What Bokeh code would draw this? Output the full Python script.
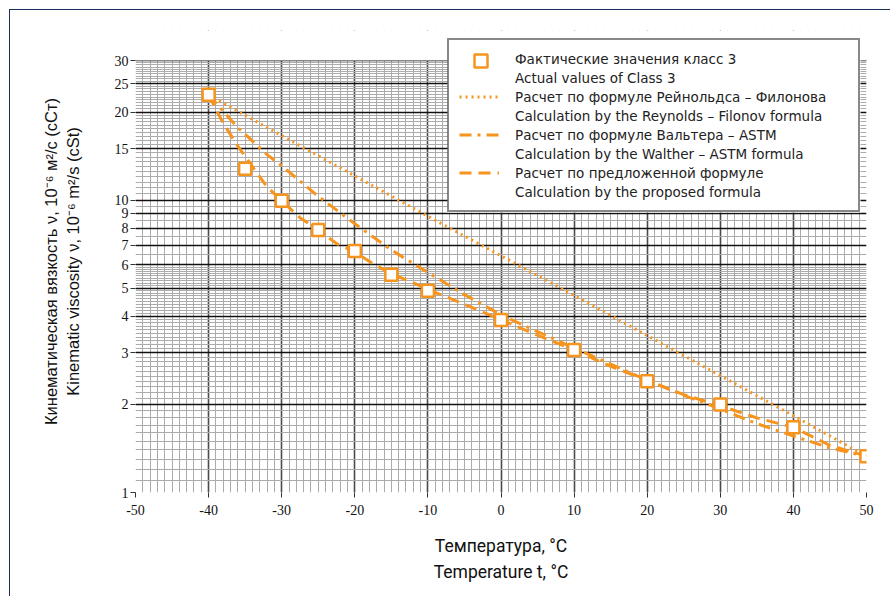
import numpy as np
from bokeh.plotting import figure
from bokeh.models import FixedTicker, Legend, LegendItem, BoxAnnotation
from bokeh.embed import file_html
from bokeh.resources import INLINE

# ---- data ----
temp_actual = [-40, -35, -30, -25, -20, -15, -10, 0, 10, 20, 30, 40, 50]
visc_actual = [22.9, 12.8, 9.95, 7.9, 6.7, 5.55, 4.9, 3.89, 3.07, 2.4, 2.0, 1.67, 1.33]

temp_reynolds = [-40, -30, -20, -10, 0, 10, 20, 30, 40, 50]
visc_reynolds = [22.9, 16.6, 12.1, 8.8, 6.45, 4.72, 3.44, 2.51, 1.83, 1.33]

temp_walther = [-40, -36, -32, -30, -25, -20, -15, -10, -5, 0, 5, 10, 15, 20, 25, 30, 35, 40, 45, 50]
visc_walther = [22.9, 17.7, 14.3, 13.1, 10.3, 8.3, 6.75, 5.65, 4.75, 4.05, 3.55, 3.12, 2.75, 2.42,
                2.15, 1.93, 1.72, 1.56, 1.42, 1.33]

temp_proposed = [-40, -38, -36, -34, -32, -30, -27.5, -25, -22.5, -20, -17.5, -15, -12.5, -10, -5,
                 0, 5, 10, 15, 20, 25, 30, 35, 40, 45, 50]
visc_proposed = [22.9, 18.3, 15.3, 13.0, 11.1, 9.95, 8.7, 7.9, 7.1, 6.65, 6.05, 5.6, 5.28, 4.95, 4.4,
                 3.9, 3.45, 3.07, 2.7, 2.42, 2.16, 1.98, 1.8, 1.67, 1.45, 1.33]

x_ticks = [-50, -40, -30, -20, -10, 0, 10, 20, 30, 40, 50]
y_ticks = [1, 2, 3, 4, 5, 6, 7, 8, 9, 10, 15, 20, 25, 30]

labels = [
    "Фактические значения класс 3",
    "Actual values of Class 3",
    "Расчет по формуле Рейнольдса – Филонова",
    "Calculation by the Reynolds – Filonov formula",
    "Расчет по формуле Вальтера – ASTM",
    "Calculation by the Walther – ASTM formula",
    "Расчет по предложенной формуле",
    "Calculation by the proposed formula",
]
x_title = "Температура, °C\nTemperature t, °C"
y_title = "Кинематическая вязкость ν, 10⁻⁶ м²/с (сСт)\nKinematic viscosity ν, 10⁻⁶ m²/s (cSt)"

ORANGE = "#F7941D"

# minor grid positions (paper grid)
x_minor = np.round(np.arange(-50, 50.01, 1), 2).tolist()
y_minor = (np.round(np.arange(1, 6, 0.1), 2).tolist()
           + np.round(np.arange(6, 10, 0.5), 2).tolist()
           + np.round(np.arange(10, 30.01, 0.5), 2).tolist())

Y_TOP = 38.0  # headroom above 30 so the legend can overlap the top edge

p = figure(width=881, height=587, x_range=(-50, 50), y_range=(1, Y_TOP), y_axis_type="log",
           output_backend="svg", toolbar_location=None,
           min_border_left=125, min_border_right=25, min_border_top=20, min_border_bottom=105,
           margin=(9, 0, 0, 9),
           styles={"border-top": "1px solid #1b2f5e", "border-left": "1px solid #1b2f5e"})
p.background_fill_color = "white"
p.border_fill_color = "white"
p.outline_line_color = None

# grids
p.xgrid.ticker = FixedTicker(ticks=x_ticks, minor_ticks=x_minor)
p.xgrid.grid_line_color = "#4a4a4a"
p.xgrid.grid_line_width = 1.6
p.xgrid.minor_grid_line_color = "#ababab"
p.xgrid.minor_grid_line_width = 1

p.ygrid.ticker = FixedTicker(ticks=y_ticks, minor_ticks=y_minor)
p.ygrid.grid_line_color = "#111111"
p.ygrid.grid_line_width = 1.5
p.ygrid.minor_grid_line_color = "#ababab"
p.ygrid.minor_grid_line_width = 1

# white cover above the top gridline (30)
cover = BoxAnnotation(bottom=30, fill_color="white", fill_alpha=1, line_color=None)
p.add_layout(cover)

# axes
p.xaxis.ticker = FixedTicker(ticks=x_ticks)
p.yaxis.ticker = FixedTicker(ticks=y_ticks)
p.xaxis.major_label_overrides = {v: str(v) for v in x_ticks}
p.yaxis.major_label_overrides = {v: str(v) for v in y_ticks}
for ax in (p.xaxis, p.yaxis):
    ax.axis_line_color = None
    ax.major_tick_line_color = "#333333"
    ax.major_tick_out = 5
    ax.major_tick_in = 0
    ax.minor_tick_line_color = None
    ax.major_label_text_font = "Liberation Serif"
    ax.major_label_text_font_size = "14px"
    ax.major_label_text_color = "#111111"
p.yaxis.major_label_standoff = 2
p.xaxis.major_label_standoff = 7

p.xaxis.axis_label = x_title
p.xaxis.axis_label_text_font = "Roboto"
p.xaxis.axis_label_text_font_size = "17.5px"
p.xaxis.axis_label_text_font_style = "normal"
p.xaxis.axis_label_text_color = "#111111"
p.xaxis.axis_label_text_line_height = 1.3
p.xaxis.axis_label_standoff = 18

p.yaxis.axis_label = y_title
p.yaxis.axis_label_text_font = "Liberation Sans"
p.yaxis.axis_label_text_font_size = "16.5px"
p.yaxis.axis_label_text_font_style = "normal"
p.yaxis.axis_label_text_color = "#111111"
p.yaxis.axis_label_text_line_height = 1.2
p.yaxis.axis_label_standoff = 30

# series
r_rey = p.line(temp_reynolds, visc_reynolds, line_color=ORANGE, line_width=3, line_dash="2 4")
r_wal = p.line(temp_walther, visc_walther, line_color=ORANGE, line_width=3, line_dash="12 6 3 6")
r_pro = p.line(temp_proposed, visc_proposed, line_color=ORANGE, line_width=3, line_dash="12 7")
r_act = p.scatter(temp_actual, visc_actual, marker="square", size=12, fill_color="white",
                  line_color=ORANGE, line_width=2.5)

# invisible renderer for legend rows without a key
dummy = p.line(x=[], y=[], line_alpha=0)

# screen units below: x from the frame's left edge, y from the frame's bottom edge
legend_bg = BoxAnnotation(left=312, right=725, bottom=280, top=452,
                          left_units="screen", right_units="screen",
                          top_units="screen", bottom_units="screen",
                          fill_color="white", fill_alpha=1, line_color=None)
p.add_layout(legend_bg)

items = [
    LegendItem(label=labels[0], renderers=[dummy]),
    LegendItem(label=labels[1], renderers=[dummy]),
    LegendItem(label=labels[2], renderers=[r_rey]),
    LegendItem(label=labels[3], renderers=[dummy]),
    LegendItem(label=labels[4], renderers=[r_wal]),
    LegendItem(label=labels[5], renderers=[dummy]),
    LegendItem(label=labels[6], renderers=[r_pro]),
    LegendItem(label=labels[7], renderers=[dummy]),
]
legend = Legend(items=items, location=(312, 280))
legend.border_line_color = "#111111"
legend.border_line_width = 2
legend.background_fill_color = "white"
legend.background_fill_alpha = 0
legend.padding = 10
legend.margin = 0
legend.spacing = 2
legend.glyph_width = 40
legend.glyph_height = 17
legend.label_height = 17
legend.label_width = 333
legend.label_standoff = 16
legend.label_text_font = "DejaVu Sans"
legend.label_text_font_size = "13.5px"
legend.label_text_color = "#222222"
p.add_layout(legend)

# legend key for the measured values (square marker)
key = BoxAnnotation(left=339, right=352, top=438, bottom=425,
                    left_units="screen", right_units="screen",
                    top_units="screen", bottom_units="screen",
                    fill_color="white", fill_alpha=1,
                    line_color=ORANGE, line_alpha=1, line_width=2.5)
p.add_layout(key)

open("out.html", "w").write(file_html(p, INLINE))
